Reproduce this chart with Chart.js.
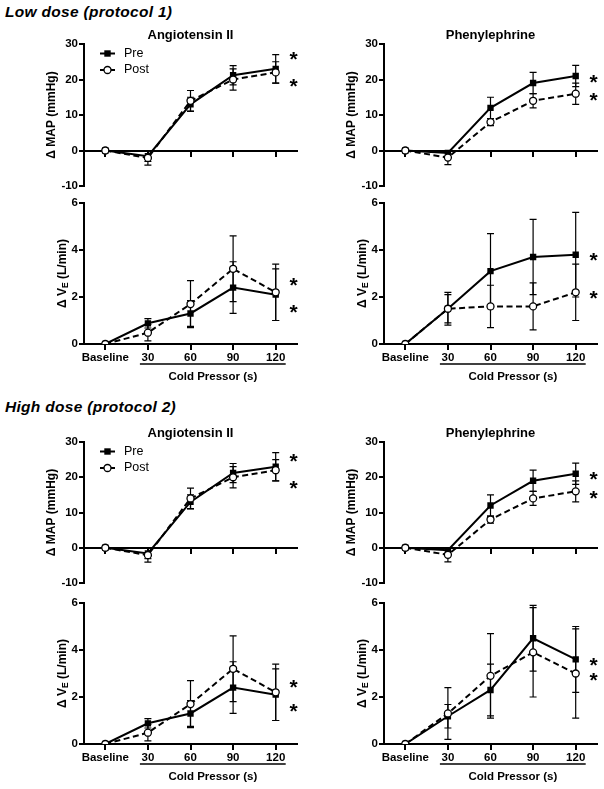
<!DOCTYPE html>
<html>
<head>
<meta charset="utf-8">
<script src="https://cdn.jsdelivr.net/npm/chart.js@4.4.1/dist/chart.umd.min.js"></script>
<style>
  body { margin: 0; background: #fff; width: 604px; height: 789px; position: relative; overflow: hidden; }
  .hdr { position: absolute; left: 5px; font: italic bold 15.5px 'Liberation Sans', Arial, sans-serif; line-height: 18px; letter-spacing: 0.3px; color: #000; }
  canvas { position: absolute; }
</style>
</head>
<body>
<div class="hdr" style="top:3px">Low dose (protocol 1)</div>
<div class="hdr" style="top:398px">High dose (protocol 2)</div>

<canvas id="p1" width="302" height="174" style="left:0;top:20px"></canvas>
<canvas id="p2" width="304" height="174" style="left:300px;top:20px"></canvas>
<canvas id="p3" width="302" height="193" style="left:0;top:194px"></canvas>
<canvas id="p4" width="304" height="193" style="left:300px;top:194px"></canvas>
<canvas id="p5" width="302" height="174" style="left:0;top:418px"></canvas>
<canvas id="p6" width="304" height="174" style="left:300px;top:418px"></canvas>
<canvas id="p7" width="302" height="197" style="left:0;top:592px"></canvas>
<canvas id="p8" width="304" height="197" style="left:300px;top:592px"></canvas>

<script>
const timepoints = ['Baseline', '30', '60', '90', '120'];

// low dose (protocol 1)
const lowAngMapPre = [0, -1.6, 13, 21.2, 23];
const lowAngMapPreErr = [0, 1.5, 2, 2.7, 4];
const lowAngMapPost = [0, -2.1, 14, 20, 22];
const lowAngMapPostErr = [0, 2, 2.9, 3, 3];

const lowPheMapPre = [0, -0.7, 12, 19, 21];
const lowPheMapPreErr = [0, 0, 3, 3, 3];
const lowPheMapPost = [0, -2, 8, 14, 16];
const lowPheMapPostErr = [0, 2, 1, 2, 3];

const lowAngVePre = [0, 0.88, 1.3, 2.4, 2.1];
const lowAngVePreErr = [0, 0.2, 0.55, 1.1, 1.1];
const lowAngVePost = [0, 0.48, 1.7, 3.2, 2.2];
const lowAngVePostErr = [0, 0.35, 1.0, 1.4, 1.2];

const lowPheVePre = [0, 1.5, 3.1, 3.7, 3.8];
const lowPheVePreErr = [0, 0.7, 1.6, 1.6, 1.8];
const lowPheVePost = [0, 1.5, 1.6, 1.6, 2.2];
const lowPheVePostErr = [0, 0.6, 0.9, 1.0, 1.2];

// high dose (protocol 2)
const highAngMapPre = [0, -1.6, 13, 21.2, 23];
const highAngMapPreErr = [0, 1.5, 2, 2.7, 4];
const highAngMapPost = [0, -2.1, 14, 20, 22];
const highAngMapPostErr = [0, 2, 2.9, 3, 3];

const highPheMapPre = [0, -0.7, 12, 19, 21];
const highPheMapPreErr = [0, 0, 3, 3, 3];
const highPheMapPost = [0, -2, 8, 14, 16];
const highPheMapPostErr = [0, 2, 1, 2, 3];

const highAngVePre = [0, 0.88, 1.3, 2.4, 2.1];
const highAngVePreErr = [0, 0.2, 0.55, 1.1, 1.1];
const highAngVePost = [0, 0.48, 1.7, 3.2, 2.2];
const highAngVePostErr = [0, 0.35, 1.0, 1.4, 1.2];

const highPheVePre = [0, 1.18, 2.3, 4.5, 3.6];
const highPheVePreErr = [0, 0.5, 1.1, 1.4, 1.4];
const highPheVePost = [0, 1.3, 2.9, 3.9, 3.0];
const highPheVePostErr = [0, 1.1, 1.8, 1.9, 1.9];

const FONT = "'Liberation Sans', Arial, sans-serif";

// error bars, titles, legend, asterisks and the cold pressor bar
const decor = {
  id: 'decor',
  beforeDatasetsDraw(chart, args, o) {
    const { ctx, scales: { x, y } } = chart;
    ctx.save();
    ctx.strokeStyle = '#000';
    ctx.lineWidth = 1.2;
    chart.data.datasets.forEach(ds => {
      ds.data.forEach((v, i) => {
        const e = ds.err[i];
        if (!e) return;
        const px = x.getPixelForValue(i);
        const top = y.getPixelForValue(v + e);
        const bot = y.getPixelForValue(v - e);
        ctx.beginPath();
        ctx.moveTo(px, top); ctx.lineTo(px, bot);
        ctx.moveTo(px - 3.5, top); ctx.lineTo(px + 3.5, top);
        ctx.moveTo(px - 3.5, bot); ctx.lineTo(px + 3.5, bot);
        ctx.stroke();
      });
    });
    ctx.restore();
  },
  afterDraw(chart, args, o) {
    const { ctx, chartArea: { left, right, top, bottom }, scales: { x, y } } = chart;
    ctx.save();
    ctx.fillStyle = '#000';
    ctx.strokeStyle = '#000';

    // panel title
    ctx.font = 'bold 13px ' + FONT;
    ctx.textAlign = 'center';
    ctx.textBaseline = 'middle';
    ctx.fillText(o.title, (left + right) / 2, top - 9);

    // y axis title
    ctx.save();
    ctx.translate(o.kind === 'map' ? 52 : 63, (top + bottom) / 2);
    ctx.rotate(-Math.PI / 2);
    ctx.textAlign = 'left';
    ctx.textBaseline = 'middle';
    const big = 'bold 12px ' + FONT, small = 'bold 8.5px ' + FONT;
    const parts = o.kind === 'map'
      ? [['\u0394 MAP (mmHg)', big, 0]]
      : [['\u0394 V', big, 0], ['E', small, 3], [' (L/min)', big, 0]];
    let total = 0;
    parts.forEach(p => { ctx.font = p[1]; total += ctx.measureText(p[0]).width; });
    let cx = -total / 2;
    parts.forEach(p => { ctx.font = p[1]; ctx.fillText(p[0], cx, p[2]); cx += ctx.measureText(p[0]).width; });
    ctx.restore();

    // asterisks
    ctx.font = 'bold 21px ' + FONT;
    ctx.textAlign = 'center';
    ctx.textBaseline = 'alphabetic';
    o.stars.forEach(s => ctx.fillText('*', x.getPixelForValue(4) + 18, y.getPixelForValue(s) + 12));

    // legend
    if (o.legend) {
      const lx = left + 16;
      ctx.font = '12.5px ' + FONT;
      ctx.textAlign = 'left';
      ctx.textBaseline = 'middle';
      ['Pre', 'Post'].forEach((name, k) => {
        const ly = top + (k === 0 ? 9.5 : 26);
        ctx.lineWidth = 2;
        ctx.beginPath(); ctx.moveTo(lx, ly); ctx.lineTo(lx + 15, ly); ctx.stroke();
        if (k === 0) {
          ctx.fillRect(lx + 7.5 - 3.2, ly - 3.2, 6.4, 6.4);
        } else {
          ctx.beginPath(); ctx.arc(lx + 7.5, ly, 3.5, 0, Math.PI * 2);
          ctx.fillStyle = '#fff'; ctx.fill();
          ctx.lineWidth = 1.3; ctx.stroke();
          ctx.fillStyle = '#000';
        }
        ctx.fillText(name, lx + 24, ly);
      });
    }

    // cold pressor bar under the time labels
    if (o.kind === 've') {
      const x1 = x.getPixelForValue(1), x4 = x.getPixelForValue(4);
      ctx.lineWidth = 1.5;
      ctx.beginPath(); ctx.moveTo(x1 - 8, bottom + 20); ctx.lineTo(x4 + 10, bottom + 20); ctx.stroke();
      ctx.font = 'bold 11.5px ' + FONT;
      ctx.textAlign = 'center';
      ctx.textBaseline = 'middle';
      ctx.fillText('Cold Pressor (s)', (x1 + x4) / 2 + 1, bottom + 33);
    }
    ctx.restore();
  }
};

function makeChart(p) {
  const isMap = p.kind === 'map';
  const tickFont = { family: FONT, size: 11.5, weight: 'bold' };
  return new Chart(document.getElementById(p.id), {
    type: 'line',
    data: {
      labels: timepoints,
      datasets: [
        {
          label: 'Pre', data: p.pre, err: p.preErr, order: 1,
          borderColor: '#000', borderWidth: 2, tension: 0,
          pointStyle: 'rect', pointRadius: 4.5, pointBackgroundColor: '#000', pointBorderWidth: 0
        },
        {
          label: 'Post', data: p.post, err: p.postErr, order: 0,
          borderColor: '#000', borderWidth: 2, borderDash: [6, 3.5], tension: 0,
          pointStyle: 'circle', pointRadius: 3.5, pointBackgroundColor: '#fff',
          pointBorderColor: '#000', pointBorderWidth: 1.3
        }
      ]
    },
    options: {
      responsive: false,
      animation: false,
      events: [],
      layout: { padding: p.pad, autoPadding: false },
      plugins: {
        legend: { display: false },
        tooltip: { enabled: false },
        decor: { title: p.title, kind: p.kind, stars: p.stars, legend: p.legend }
      },
      scales: {
        x: {
          type: 'category',
          offset: true,
          position: { y: 0 },
          grid: { drawOnChartArea: false, color: '#000', lineWidth: 2, tickLength: 5 },
          border: { color: '#000', width: 2 },
          ticks: { display: !isMap, color: '#000', font: tickFont, padding: 2, maxRotation: 0, autoSkip: false }
        },
        y: {
          min: isMap ? -10 : 0,
          max: isMap ? 30 : 6,
          grid: { drawOnChartArea: false, color: '#000', lineWidth: 2, tickLength: 5 },
          border: { color: '#000', width: 2 },
          ticks: { stepSize: isMap ? 10 : 2, color: '#000', font: tickFont, padding: 1 },
          afterFit(scale) { scale.width = 84; }
        }
      }
    },
    plugins: [decor]
  });
}

const mapPad = { left: 0, top: 24, right: 5, bottom: 8 };
const panels = [
  { id: 'p1', title: 'Angiotensin II', kind: 'map', pre: lowAngMapPre, preErr: lowAngMapPreErr, post: lowAngMapPost, postErr: lowAngMapPostErr, stars: [27.2, 19.7], legend: true, pad: mapPad },
  { id: 'p2', title: 'Phenylephrine', kind: 'map', pre: lowPheMapPre, preErr: lowPheMapPreErr, post: lowPheMapPost, postErr: lowPheMapPostErr, stars: [20.8, 15.6], legend: false, pad: { left: 0, top: 24, right: 7, bottom: 8 } },
  { id: 'p3', title: '', kind: 've', pre: lowAngVePre, preErr: lowAngVePreErr, post: lowAngVePost, postErr: lowAngVePostErr, stars: [2.72, 1.58], legend: false, pad: { left: 0, top: 9, right: 5, bottom: 43 } },
  { id: 'p4', title: '', kind: 've', pre: lowPheVePre, preErr: lowPheVePreErr, post: lowPheVePost, postErr: lowPheVePostErr, stars: [3.78, 2.17], legend: false, pad: { left: 0, top: 9, right: 7, bottom: 43 } },
  { id: 'p5', title: 'Angiotensin II', kind: 'map', pre: highAngMapPre, preErr: highAngMapPreErr, post: highAngMapPost, postErr: highAngMapPostErr, stars: [26.0, 18.4], legend: true, pad: { left: 0, top: 24, right: 5, bottom: 9 } },
  { id: 'p6', title: 'Phenylephrine', kind: 'map', pre: highPheMapPre, preErr: highPheMapPreErr, post: highPheMapPost, postErr: highPheMapPostErr, stars: [21, 15.6], legend: false, pad: { left: 0, top: 24, right: 7, bottom: 9 } },
  { id: 'p7', title: '', kind: 've', pre: highAngVePre, preErr: highAngVePreErr, post: highAngVePost, postErr: highAngVePostErr, stars: [2.65, 1.63], legend: false, pad: { left: 0, top: 11, right: 5, bottom: 45 } },
  { id: 'p8', title: '', kind: 've', pre: highPheVePre, preErr: highPheVePreErr, post: highPheVePost, postErr: highPheVePostErr, stars: [3.57, 2.93], legend: false, pad: { left: 0, top: 11, right: 7, bottom: 45 } }
];

panels.forEach(makeChart);
</script>
</body>
</html>
